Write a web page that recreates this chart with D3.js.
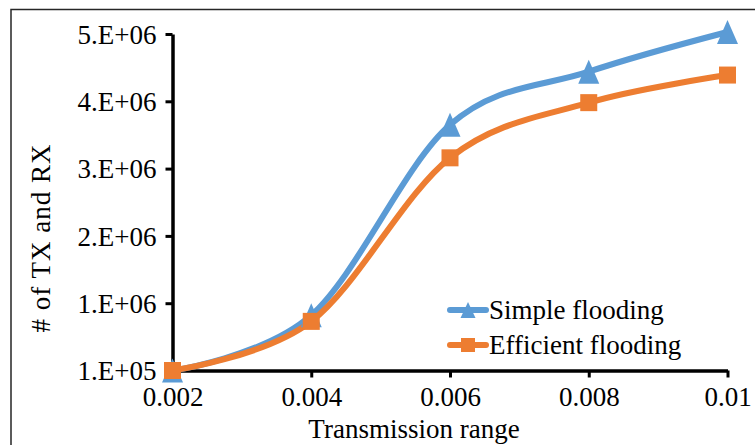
<!DOCTYPE html>
<html>
<head>
<meta charset="utf-8">
<script src="https://cdn.jsdelivr.net/npm/d3@7"></script>
<style>
  html, body { margin: 0; padding: 0; background: #fff; }
  svg { display: block; }
  text { font-family: "Liberation Serif", "Times New Roman", serif; fill: #000; }
</style>
</head>
<body>
<svg id="chart" width="755" height="445"></svg>
<script>
const xValues = [0.002, 0.004, 0.006, 0.008, 0.01];
const xTickLabels = ["0.002", "0.004", "0.006", "0.008", "0.01"];
const simpleFlooding = [1.0e5, 0.92e6, 3.75e6, 4.54e6, 5.13e6];
const efficientFlooding = [1.0e5, 0.83e6, 3.26e6, 4.08e6, 4.49e6];
const yTickValues = [1e5, 1.1e6, 2.1e6, 3.1e6, 4.1e6, 5.1e6];
const yTickLabels = ["1.E+05", "1.E+06", "2.E+06", "3.E+06", "4.E+06", "5.E+06"];
const seriesNames = ["Simple flooding", "Efficient flooding"];
const colors = ["#5B9BD5", "#ED7D31"];

const svg = d3.select("#chart");

// outer frame (right/bottom edges cropped off)
svg.append("rect").attr("x", 11).attr("y", 9.5).attr("width", 800).attr("height", 500)
  .attr("fill", "none").attr("stroke", "#262626").attr("stroke-width", 1.5);

const x = d3.scaleLinear().domain([0.002, 0.01]).range([172.5, 727.5]);
const y = d3.scaleLinear().domain([1e5, 5.1e6]).range([370.5, 34]);

const fontSize = 27;

// Y axis
const yAxis = d3.axisLeft(y).tickValues(yTickValues)
  .tickFormat((d, i) => yTickLabels[i]).tickSizeInner(7).tickSizeOuter(0).tickPadding(9);
const gy = svg.append("g").attr("transform", `translate(${x.range()[0]},0)`).call(yAxis);
gy.select(".domain").attr("stroke", "#000").attr("stroke-width", 3.5);
gy.selectAll(".tick line").attr("stroke", "#000").attr("stroke-width", 3);
gy.selectAll(".tick text").style("font-size", fontSize + "px")
  .style("font-family", '"Liberation Serif", serif').attr("fill", "#000").attr("dy", "0.34em");

// X axis
const xAxis = d3.axisBottom(x).tickValues(xValues)
  .tickFormat((d, i) => xTickLabels[i]).tickSizeInner(7).tickSizeOuter(0).tickPadding(9);
const gx = svg.append("g").attr("transform", `translate(0,${y.range()[0]})`).call(xAxis);
gx.select(".domain").attr("stroke", "#000").attr("stroke-width", 3.5);
gx.selectAll(".tick line").attr("stroke", "#000").attr("stroke-width", 3);
gx.selectAll(".tick text").style("font-size", fontSize + "px")
  .style("font-family", '"Liberation Serif", serif').attr("fill", "#000");

// Titles
svg.append("text").attr("x", 414).attr("y", 438).attr("text-anchor", "middle")
  .style("font-size", fontSize + "px").text("Transmission  range");
svg.append("text").attr("transform", "translate(50,238) rotate(-90)").attr("text-anchor", "middle")
  .style("font-size", fontSize + "px").style("letter-spacing", "1px").text("# of TX and RX");

// Series
const line = d3.line().x((d, i) => x(xValues[i])).y(d => y(d)).curve(d3.curveCatmullRom.alpha(0));
const series = [simpleFlooding, efficientFlooding];

function triPath(cx, cy, w, h) {
  return `M${cx},${cy - h / 2}L${cx + w / 2},${cy + h / 2}L${cx - w / 2},${cy + h / 2}Z`;
}

series.forEach((vals, s) => {
  svg.append("path").datum(vals).attr("d", line).attr("fill", "none")
    .attr("stroke", colors[s]).attr("stroke-width", 6).attr("stroke-linejoin", "round").attr("stroke-linecap", "round");
});
series.forEach((vals, s) => {
  vals.forEach((v, i) => {
    const cx = x(xValues[i]), cy = y(v);
    if (s === 0) {
      svg.append("path").attr("d", triPath(cx, cy, 21, 24)).attr("fill", colors[s]);
    } else {
      svg.append("rect").attr("x", cx - 8.5).attr("y", cy - 8.5).attr("width", 17).attr("height", 17).attr("fill", colors[s]);
    }
  });
});

// Legend
const legY = [310, 345];
seriesNames.forEach((name, s) => {
  const ly = legY[s];
  svg.append("line").attr("x1", 450).attr("x2", 486).attr("y1", ly).attr("y2", ly)
    .attr("stroke", colors[s]).attr("stroke-width", 6).attr("stroke-linecap", "round");
  if (s === 0) svg.append("path").attr("d", triPath(468, ly, 15, 16)).attr("fill", colors[s]);
  else svg.append("rect").attr("x", 461).attr("y", ly - 7).attr("width", 14).attr("height", 14).attr("fill", colors[s]);
  svg.append("text").attr("x", 489).attr("y", ly).attr("dy", "0.34em")
    .style("font-size", fontSize + "px").text(name);
});
</script>
</body>
</html>
